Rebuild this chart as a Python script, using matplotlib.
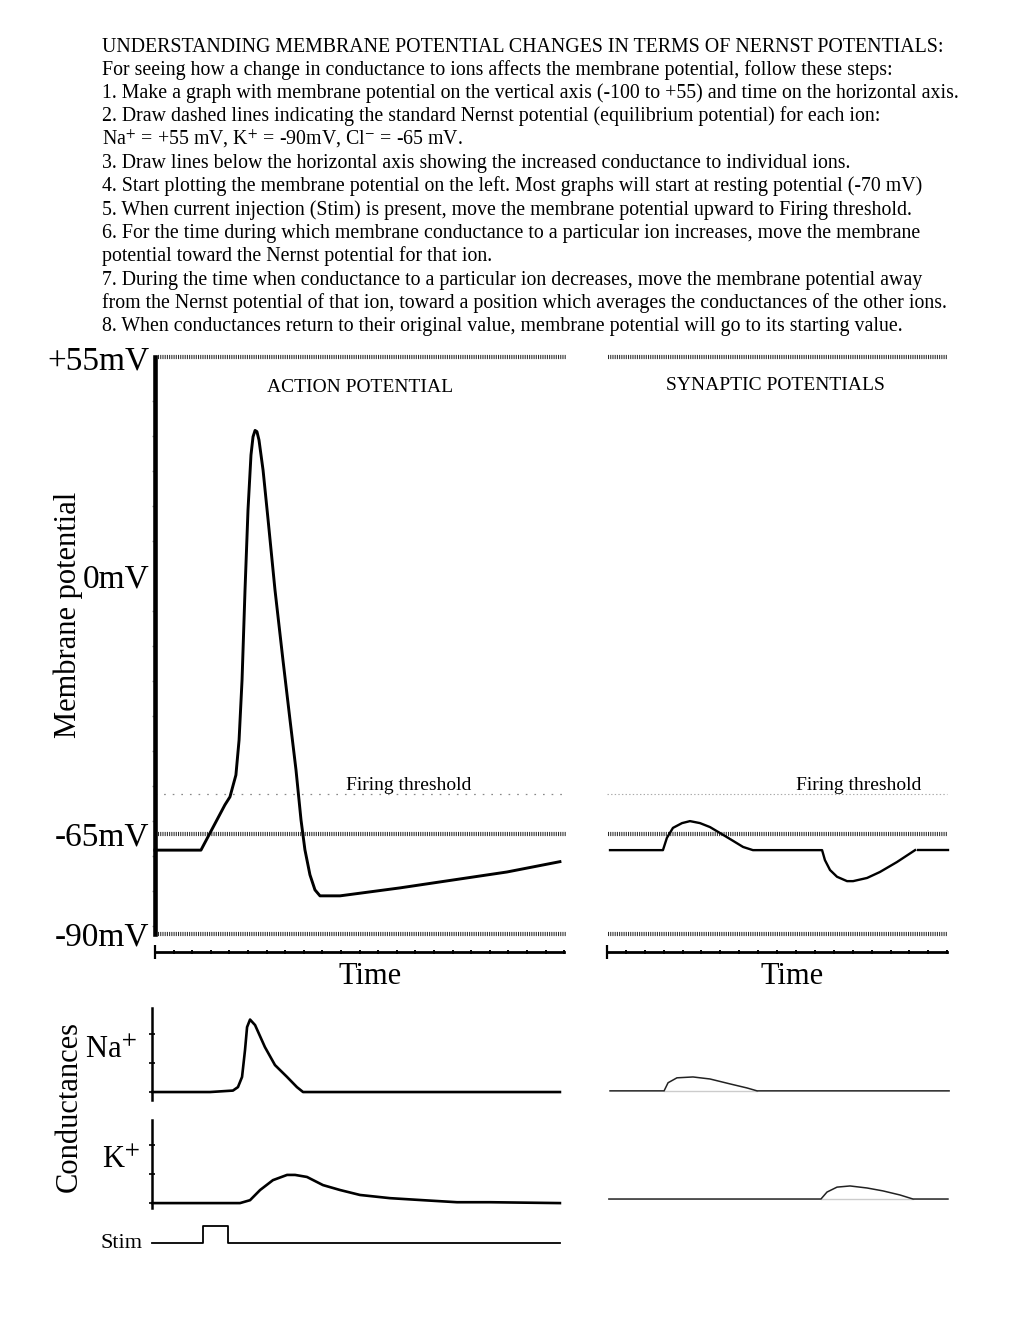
import numpy as np
import matplotlib.pyplot as plt

plt.rcParams['font.family'] = 'Liberation Serif'
plt.rcParams['mathtext.fontset'] = 'stix'
plt.rcParams['lines.scale_dashes'] = False

W, H = 1020, 1322

# instructions printed above the graphs
header_lines = [
    "UNDERSTANDING MEMBRANE POTENTIAL CHANGES IN TERMS OF NERNST POTENTIALS:",
    "For seeing how a change in conductance to ions affects the membrane potential, follow these steps:",
    "1. Make a graph with membrane potential on the vertical axis (-100 to +55) and time on the horizontal axis.",
    "2. Draw dashed lines indicating the standard Nernst potential (equilibrium potential) for each ion:",
    r"Na$^{+}$ = +55 mV, K$^{+}$ = -90mV, Cl$^{-}$ = -65 mV.",
    "3. Draw lines below the horizontal axis showing the increased conductance to individual ions.",
    "4. Start plotting the membrane potential on the left. Most graphs will start at resting potential (-70 mV)",
    "5. When current injection (Stim) is present, move the membrane potential upward to Firing threshold.",
    "6. For the time during which membrane conductance to a particular ion increases, move the membrane",
    "potential toward the Nernst potential for that ion.",
    "7. During the time when conductance to a particular ion decreases, move the membrane potential away",
    "from the Nernst potential of that ion, toward a position which averages the conductances of the other ions.",
    "8. When conductances return to their original value, membrane potential will go to its starting value.",
]

# potential levels (mV)
nernst_levels = [55, -65, -90]
nernst_labels = ['+55mV', '0mV', '-65mV', '-90mV']
label_levels = [55, 0, -65, -90]
threshold = -55

# action potential (time in tick units, mV)
ap_t = [0, 2.47, 3.76, 4.03, 4.35, 4.52, 4.68, 4.84, 5.00, 5.16, 5.27, 5.38, 5.48, 5.59,
        5.81, 6.08, 6.45, 6.88, 7.26, 7.58, 7.85, 8.06, 8.33, 8.60, 8.87, 9.95,
        13.17, 15.32, 18.92, 21.77]
ap_v = [-69, -69, -57.6, -55.6, -50.1, -41.3, -26.2, -3.5, 16.6, 30.4, 35.0, 36.6, 36.3, 34.2,
        26.6, 14.1, -3.5, -21.2, -36.3, -48.8, -61.4, -68.9, -75.2, -79.0, -80.5, -80.5,
        -78.5, -77.0, -74.5, -71.9]

# synaptic potentials (EPSP then IPSP)
syn_t = [0.16, 2.96, 3.17, 3.49, 3.97, 4.39, 4.92, 5.45, 5.98, 6.51, 7.20, 7.72,
         11.38, 11.53, 11.80, 12.17, 12.70, 13.02, 13.76, 14.44, 15.34, 16.30]
syn_v = [-69, -69, -65.9, -63.4, -62.2, -61.7, -62.2, -63.2, -64.7, -66.2, -68.2, -69,
         -69, -71.5, -74.0, -75.7, -76.8, -76.8, -76.0, -74.5, -72.0, -69]
syn_tail_t = [16.46, 18.04]
syn_tail_v = [-69, -69]

# conductances, action potential side
na_t = [-0.15, 2.96, 4.19, 4.46, 4.68, 4.84, 4.95, 5.11, 5.38, 5.91, 6.45, 7.10, 7.63, 7.96, 21.77]
na_g = [0, 0, 0.05, 0.17, 0.52, 1.45, 2.24, 2.50, 2.31, 1.55, 0.93, 0.52, 0.17, 0, 0]
k_t = [-0.15, 4.57, 5.11, 5.65, 6.34, 7.10, 7.53, 8.17, 9.03, 9.95, 11.02, 12.63,
       14.41, 16.24, 18.01, 21.77]
k_g = [0, 0, 0.1, 0.45, 0.79, 0.97, 0.97, 0.9, 0.62, 0.45, 0.28, 0.17, 0.1, 0.03, 0.03, 0]
stim_t = [-0.15, 2.58, 2.58, 3.92, 3.92, 21.77]
stim_v = [0, 0, 1, 1, 0, 0]

# conductances, synaptic side
na_syn_t = [0.16, 3.02, 3.23, 3.70, 4.55, 5.45, 6.51, 7.41, 7.94, 18.1]
na_syn_g = [0, 0, 0.28, 0.45, 0.48, 0.41, 0.24, 0.10, 0, 0]
k_syn_t = [0.1, 11.32, 11.64, 12.17, 12.86, 13.76, 14.60, 15.50, 16.19, 18.04]
k_syn_g = [0, 0, 0.24, 0.41, 0.45, 0.38, 0.28, 0.14, 0, 0]

fig = plt.figure(figsize=(W / 100, H / 100), dpi=100)


def px_axes(x0, x1, y0, y1):
    ax = fig.add_axes([x0 / W, 1 - y1 / H, (x1 - x0) / W, (y1 - y0) / H])
    ax.patch.set_visible(False)
    for s in ax.spines.values():
        s.set_visible(False)
    ax.set_xticks([])
    ax.set_yticks([])
    return ax


def ftext(x, y, s, **kw):
    return fig.text(x / W, 1 - y / H, s, **kw)


for i, line in enumerate(header_lines):
    ftext(102, 51.5 + 23.3 * i, line, fontsize=14.3, ha='left', va='baseline')

V_TOP, V_BOT = 59.35, -97.9
AXIS_V = -94.6
nernst_style = dict(color='#2a2a2a', lw=3, ls=(0, (0.75, 0.85)))


def time_axis(ax, tmax):
    sp = ax.spines['bottom']
    sp.set_visible(True)
    sp.set_position(('data', AXIS_V))
    sp.set_bounds(0, tmax)
    sp.set_linewidth(2)
    ax.set_xticks([0])
    ax.set_xticklabels([])
    ax.set_xticks(np.arange(1, tmax + 1), minor=True)
    ax.tick_params(axis='x', which='major', direction='inout', length=10, width=1.6)
    ax.tick_params(axis='x', which='minor', direction='inout', length=3.5, width=1.4)


# action potential panel
ax1 = px_axes(136.4, 582.8, 340, 965)
ax1.set_xlim(-1, 23)
ax1.set_ylim(V_BOT, V_TOP)
for lv in nernst_levels:
    ax1.plot([0.16, 22.1], [lv, lv], **nernst_style)
ax1.plot([0, 22], [threshold, threshold], color='#888', lw=0.9, ls=(0, (1.2, 5)))
ax1.plot(ap_t, ap_v, color='black', lw=2.1, solid_joinstyle='round')
time_axis(ax1, 22)
sp = ax1.spines['left']
sp.set_visible(True)
sp.set_position(('data', 0))
sp.set_bounds(-90, 55)
sp.set_linewidth(3.3)
ax1.set_yticks(label_levels)
ax1.set_yticklabels(nernst_labels, fontsize=24)
ax1.set_yticks(np.arange(-88, 50, 8.8), minor=True)
ax1.tick_params(axis='y', which='major', length=0, pad=4)
ax1.tick_params(axis='y', which='minor', direction='out', length=2.5, width=1, color='#999')

# synaptic panel
ax2 = px_axes(588.1, 966.1, 340, 965)
ax2.set_xlim(-1, 19)
ax2.set_ylim(V_BOT, V_TOP)
for lv in nernst_levels:
    ax2.plot([0.05, 18.04], [lv, lv], **nernst_style)
ax2.plot([0, 18], [threshold, threshold], color='#aaa', lw=0.8, ls=(0, (1, 1.6)))
ax2.plot(syn_t, syn_v, color='black', lw=1.7)
ax2.plot(syn_tail_t, syn_tail_v, color='black', lw=1.7)
time_axis(ax2, 18)

ftext(360, 388, 'ACTION POTENTIAL', fontsize=14, ha='center', va='center')
ftext(775, 385, 'SYNAPTIC POTENTIALS', fontsize=14, ha='center', va='center')
ftext(409, 785, 'Firing threshold', fontsize=14, ha='center', va='center')
ftext(859, 785, 'Firing threshold', fontsize=14, ha='center', va='center')
ftext(370, 977, 'Time', fontsize=22, ha='center', va='center')
ftext(792, 977, 'Time', fontsize=22, ha='center', va='center')
ftext(68, 615, 'Membrane potential', fontsize=22, rotation=90, ha='center', va='center')
ftext(69, 1106, 'Conductances', fontsize=22, rotation=90, ha='center', va='center')
ftext(137, 1050, r'Na$^{+}$', fontsize=22, ha='right', va='center')
ftext(140, 1160, r'K$^{+}$', fontsize=22, ha='right', va='center')
ftext(143, 1243, 'Stim', fontsize=16, ha='right', va='center')


def cond_axis(ax, lo, hi):
    sp = ax.spines['left']
    sp.set_visible(True)
    sp.set_position(('data', -0.16))
    sp.set_bounds(lo, hi)
    sp.set_linewidth(1.8)
    ax.set_yticks([0, 1, 2])
    ax.set_yticklabels([])
    ax.tick_params(axis='y', direction='inout', length=4, width=1.2)


ax_na = px_axes(136.4, 582.8, 990, 1110)
ax_na.set_xlim(-1, 23)
ax_na.set_ylim(-0.62, 3.52)
ax_na.plot(na_t, na_g, color='black', lw=1.9, solid_joinstyle='round')
cond_axis(ax_na, -0.28, 2.9)

ax_k = px_axes(136.4, 582.8, 1100, 1215)
ax_k.set_xlim(-1, 23)
ax_k.set_ylim(-0.41, 3.55)
ax_k.plot(k_t, k_g, color='black', lw=1.9, solid_joinstyle='round')
cond_axis(ax_k, -0.17, 2.86)

ax_st = px_axes(136.4, 582.8, 1215, 1265)
ax_st.set_xlim(-1, 23)
ax_st.set_ylim(-1.29, 1.65)
ax_st.plot(stim_t, stim_v, color='black', lw=1.3)

ax_na2 = px_axes(588.1, 966.1, 990, 1110)
ax_na2.set_xlim(-1, 19)
ax_na2.set_ylim(-0.66, 3.48)
ax_na2.plot([na_syn_t[1], na_syn_t[-2]], [0, 0], color='#cccccc', lw=1)
ax_na2.plot(na_syn_t, na_syn_g, color='#222', lw=1.1)

ax_k2 = px_axes(588.1, 966.1, 1100, 1215)
ax_k2.set_xlim(-1, 19)
ax_k2.set_ylim(-0.55, 3.41)
ax_k2.plot([k_syn_t[1], k_syn_t[-2]], [0, 0], color='#cccccc', lw=1)
ax_k2.plot(k_syn_t, k_syn_g, color='#222', lw=1.1)

fig.savefig('out.png', dpi=100)
